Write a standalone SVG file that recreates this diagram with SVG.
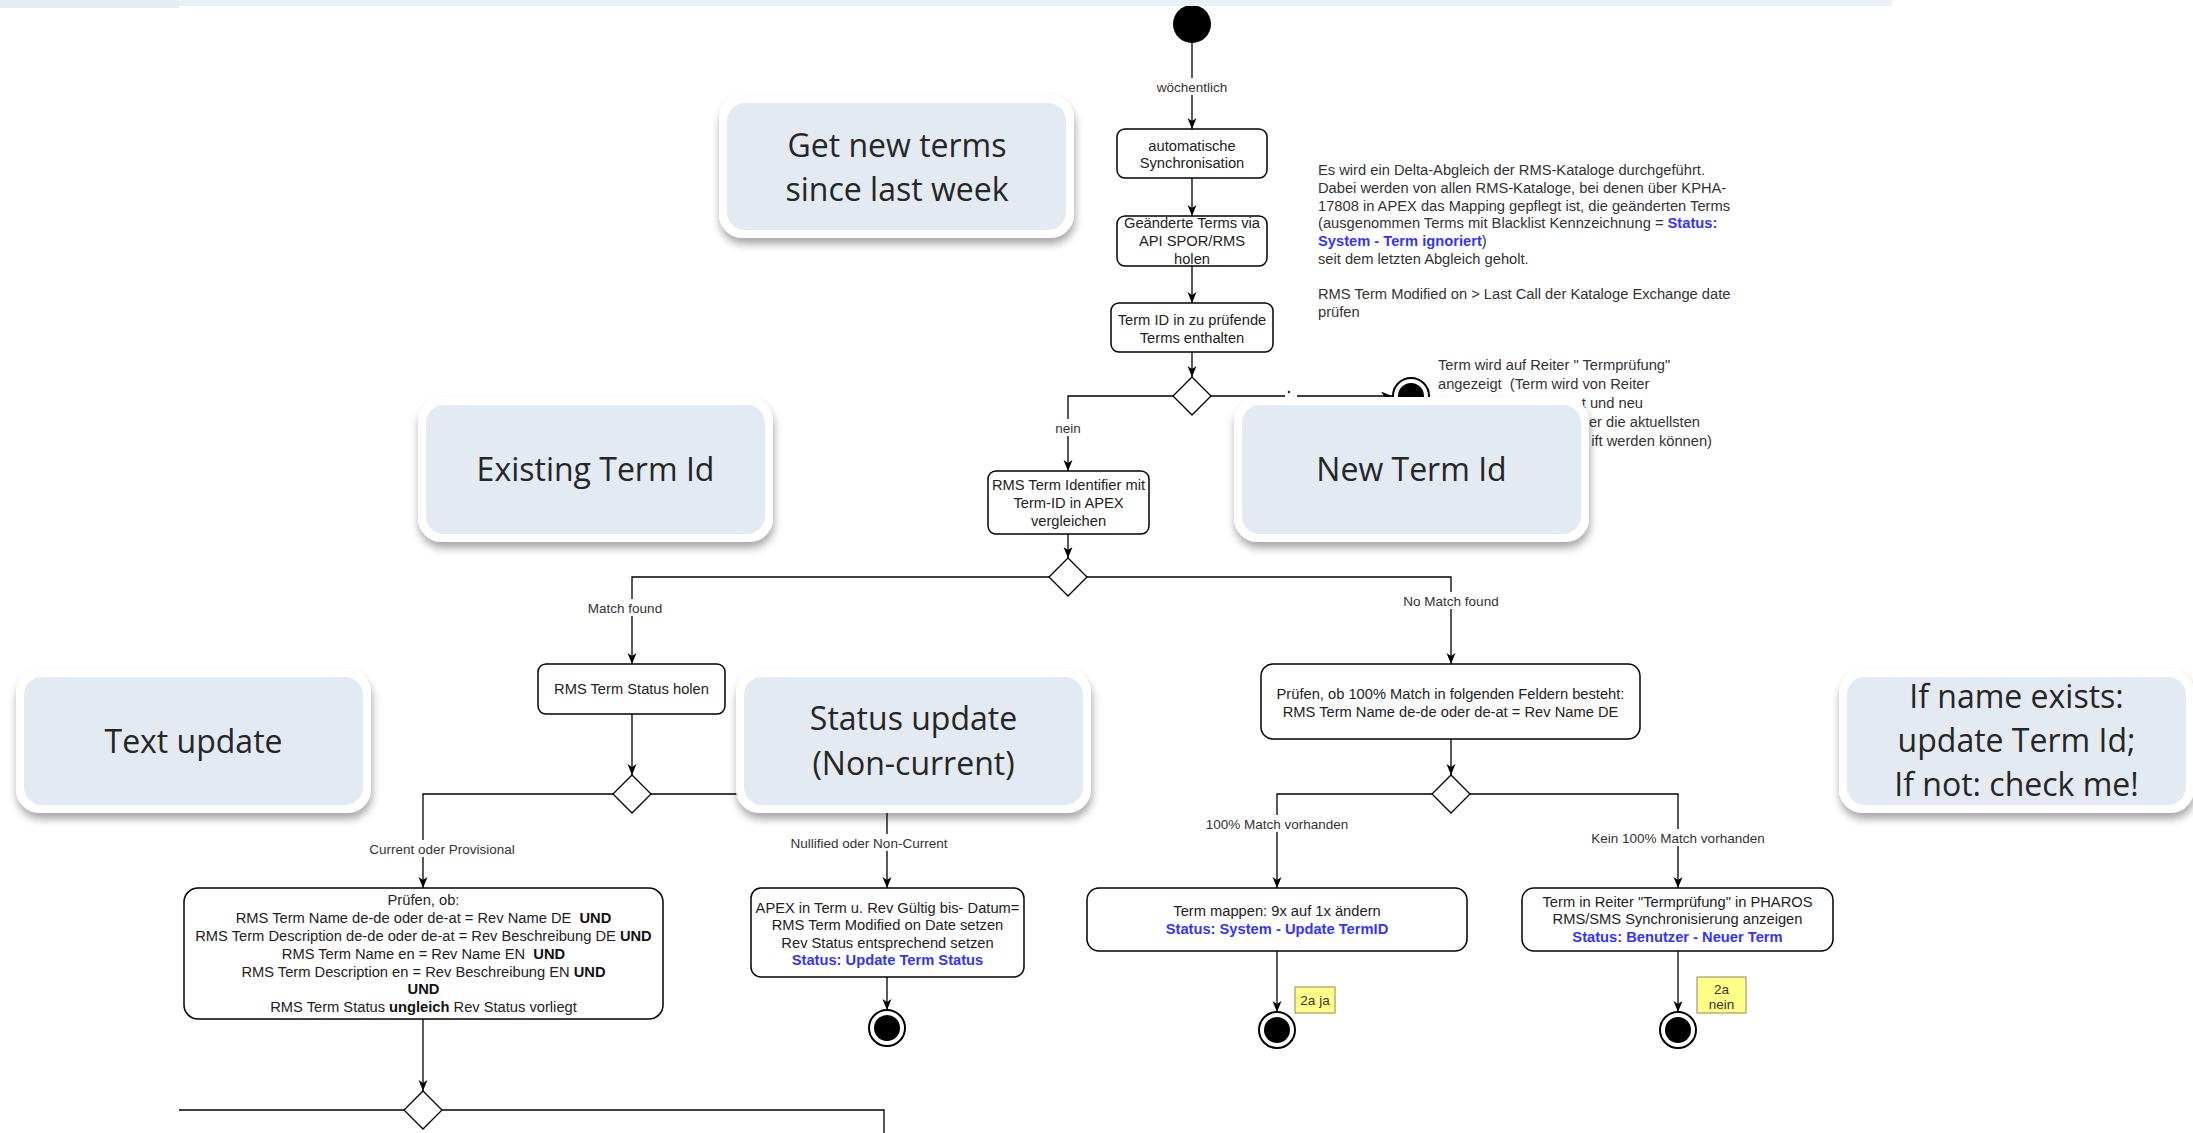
<svg xmlns="http://www.w3.org/2000/svg" width="2193" height="1133" viewBox="0 0 2193 1133">
  <defs>
    <marker id="arrow" markerUnits="userSpaceOnUse" markerWidth="12" markerHeight="10" refX="11" refY="4.5" orient="auto">
      <path d="M0,0 L11,4.5 L0,9 L3,4.5 Z" fill="#000"/>
    </marker>
    <filter id="callout-shadow" x="-10%" y="-10%" width="120%" height="130%">
      <feDropShadow dx="1" dy="6" stdDeviation="4" flood-color="#000" flood-opacity="0.35"/>
    </filter>
    <style>
      .box { fill: #fff; stroke: #000; stroke-width: 1.5; }
      .edge { fill: none; stroke: #000; stroke-width: 1.3; }
      .arrow { marker-end: url(#arrow); }
      .t { font-family: "Liberation Sans", Arial, sans-serif; font-size: 14.7px; fill: #222; text-anchor: middle; white-space: pre; }
      .note { font-family: "Liberation Sans", Arial, sans-serif; font-size: 14.7px; fill: #333; white-space: pre; }
      .lbl { font-family: "Liberation Sans", Arial, sans-serif; font-size: 13.5px; fill: #333; text-anchor: middle; }
      .lblbg { fill: #fff; }
      .b { font-weight: bold; fill: #111; }
      .blue { font-weight: bold; fill: #3333ff; }
      .co-outer { fill: #fff; filter: url(#callout-shadow); }
      .co-inner { fill: #e3eaf2; }
      .co-text { font-family: "Open Sans", "Noto Sans", sans-serif; font-size: 32px; fill: #262626; text-anchor: middle; }
      .diamond { fill: #fff; stroke: #000; stroke-width: 1.3; }
      .sticky { fill: #ffff88; stroke: #8a8a5a; stroke-width: 1; }
      .sticky-t { font-family: "Liberation Sans", Arial, sans-serif; font-size: 13.5px; fill: #333; text-anchor: middle; }
    </style>
  </defs>

  <rect width="2193" height="1133" fill="#fff"/>

  <!-- free text notes -->
  <g id="note-delta">
    <text class="note" x="1318" y="175">Es wird ein Delta-Abgleich der RMS-Kataloge durchgeführt.</text>
    <text class="note" x="1318" y="193">Dabei werden von allen RMS-Kataloge, bei denen über KPHA-</text>
    <text class="note" x="1318" y="211">17808 in APEX das Mapping gepflegt ist, die geänderten Terms</text>
    <text class="note" x="1318" y="228">(ausgenommen Terms mit Blacklist Kennzeichnung = <tspan class="blue">Status:</tspan></text>
    <text class="note" x="1318" y="246"><tspan class="blue">System - Term ignoriert</tspan>)</text>
    <text class="note" x="1318" y="264">seit dem letzten Abgleich geholt.</text>
    <text class="note" x="1318" y="299">RMS Term Modified on &gt; Last Call der Kataloge Exchange date</text>
    <text class="note" x="1318" y="317">prüfen</text>
  </g>
  <g id="note-termpruefung">
    <text class="note" x="1438" y="370">Term wird auf Reiter " Termprüfung"</text>
    <text class="note" x="1438" y="389">angezeigt  (Term wird von Reiter</text>
    <text class="note" x="1643" y="408" text-anchor="end">t und neu</text>
    <text class="note" x="1700" y="427" text-anchor="end">er die aktuellsten</text>
    <text class="note" x="1712" y="446" text-anchor="end">ift werden können)</text>
  </g>

  <!-- connectors -->
  <g id="connectors">
    <path class="edge arrow" d="M1192,43 V129"/>
    <path class="edge arrow" d="M1192,178 V216"/>
    <path class="edge arrow" d="M1192,266 V303"/>
    <path class="edge arrow" d="M1192,352 V377"/>
    <!-- decision 1 -->
    <path class="edge arrow" d="M1173,396 H1068 V471"/>
    <path class="edge" d="M1211,396 H1285"/>
    <path class="edge arrow" d="M1297,396 H1392"/>
    <circle cx="1289" cy="392" r="1.3" fill="#333"/>
    <path class="edge arrow" d="M1068,534 V558"/>
    <!-- decision 2 -->
    <path class="edge arrow" d="M1049,577 H632 V664"/>
    <path class="edge arrow" d="M1087,577 H1451 V664"/>
    <path class="edge arrow" d="M632,714 V775"/>
    <path class="edge arrow" d="M1451,739 V775"/>
    <!-- decision 4 -->
    <path class="edge arrow" d="M613,794 H423 V888"/>
    <path class="edge arrow" d="M651,794 H887 V888"/>
    <!-- decision 3 -->
    <path class="edge arrow" d="M1432,794 H1277 V888"/>
    <path class="edge arrow" d="M1470,794 H1678 V888"/>
    <!-- to end nodes -->
    <path class="edge arrow" d="M887,977 V1010"/>
    <path class="edge arrow" d="M1277,951 V1012"/>
    <path class="edge arrow" d="M1678,951 V1012"/>
    <path class="edge arrow" d="M423,1019 V1091"/>
    <!-- decision 5 -->
    <path class="edge" d="M404,1110 H179"/>
    <path class="edge" d="M442,1110 H884 V1133"/>

    <!-- edge labels -->
    <rect class="lblbg" x="1155" y="78" width="74" height="17"/>
    <text class="lbl" x="1192" y="91.5">wöchentlich</text>
    <rect class="lblbg" x="1053" y="419" width="30" height="17"/>
    <text class="lbl" x="1068" y="432.5">nein</text>
    <rect class="lblbg" x="586" y="599" width="78" height="17"/>
    <text class="lbl" x="625" y="612.5">Match found</text>
    <rect class="lblbg" x="1401" y="592" width="100" height="17"/>
    <text class="lbl" x="1451" y="605.5">No Match found</text>
    <rect class="lblbg" x="366" y="840" width="152" height="17"/>
    <text class="lbl" x="442" y="853.5">Current oder Provisional</text>
    <rect class="lblbg" x="788" y="834" width="162" height="17"/>
    <text class="lbl" x="869" y="847.5">Nullified oder Non-Current</text>
    <rect class="lblbg" x="1204" y="815" width="146" height="17"/>
    <text class="lbl" x="1277" y="828.5">100% Match vorhanden</text>
    <rect class="lblbg" x="1591" y="829" width="176" height="17"/>
    <text class="lbl" x="1678" y="842.5">Kein 100% Match vorhanden</text>
  </g>

  <!-- start -->
  <g id="start">
    <circle cx="1192" cy="24" r="19" fill="#000"/>
  </g>

  <g id="sync">
    <rect class="box" x="1117" y="129" width="150" height="49" rx="8"/>
    <text class="t" x="1192" y="151">automatische</text>
    <text class="t" x="1192" y="168">Synchronisation</text>
  </g>
  <g id="fetch">
    <rect class="box" x="1117" y="216" width="150" height="50" rx="8"/>
    <text class="t" x="1192" y="228">Geänderte Terms via</text>
    <text class="t" x="1192" y="246">API SPOR/RMS</text>
    <text class="t" x="1192" y="264">holen</text>
  </g>
  <g id="check-id">
    <rect class="box" x="1111" y="303" width="162" height="49" rx="8"/>
    <text class="t" x="1192" y="325">Term ID in zu prüfende</text>
    <text class="t" x="1192" y="343">Terms enthalten</text>
  </g>
  <g id="decision-1">
    <polygon class="diamond" points="1192,377 1211,396 1192,415 1173,396"/>
  </g>
  <g id="end-new">
    <circle cx="1411" cy="396" r="18" fill="#fff" stroke="#000" stroke-width="2"/>
    <circle cx="1411" cy="396" r="13" fill="#000"/>
  </g>
  <g id="compare-id">
    <rect class="box" x="988" y="471" width="161" height="63" rx="8"/>
    <text class="t" x="1068.5" y="490">RMS Term Identifier mit</text>
    <text class="t" x="1068.5" y="508">Term-ID in APEX</text>
    <text class="t" x="1068.5" y="526">vergleichen</text>
  </g>
  <g id="decision-2">
    <polygon class="diamond" points="1068,558 1087,577 1068,596 1049,577"/>
  </g>
  <g id="status-fetch">
    <rect class="box" x="538" y="664" width="187" height="50" rx="8"/>
    <text class="t" x="631.5" y="694">RMS Term Status holen</text>
  </g>
  <g id="decision-4">
    <polygon class="diamond" points="632,775 651,794 632,813 613,794"/>
  </g>
  <g id="check-text">
    <rect class="box" x="184" y="888" width="479" height="131" rx="14"/>
    <text class="t" x="423.5" y="905">Prüfen, ob:</text>
    <text class="t" x="423.5" y="923">RMS Term Name de-de oder de-at = Rev Name DE  <tspan class="b">UND</tspan></text>
    <text class="t" x="423.5" y="941">RMS Term Description de-de oder de-at = Rev Beschreibung DE <tspan class="b">UND</tspan></text>
    <text class="t" x="423.5" y="959">RMS Term Name en = Rev Name EN  <tspan class="b">UND</tspan></text>
    <text class="t" x="423.5" y="977">RMS Term Description en = Rev Beschreibung EN <tspan class="b">UND</tspan></text>
    <text class="t b" x="423.5" y="994">UND</text>
    <text class="t" x="423.5" y="1012">RMS Term Status <tspan class="b">ungleich</tspan> Rev Status vorliegt</text>
  </g>
  <g id="decision-5">
    <polygon class="diamond" points="423,1091 442,1110 423,1129 404,1110"/>
  </g>
  <g id="status-set">
    <rect class="box" x="751" y="888" width="273" height="89" rx="10"/>
    <text class="t" x="887.5" y="913">APEX in Term u. Rev Gültig bis- Datum=</text>
    <text class="t" x="887.5" y="930">RMS Term Modified on Date setzen</text>
    <text class="t" x="887.5" y="948">Rev Status entsprechend setzen</text>
    <text class="t blue" x="887.5" y="965">Status: Update Term Status</text>
  </g>
  <g id="end-status">
    <circle cx="887" cy="1028" r="18" fill="#fff" stroke="#000" stroke-width="2"/>
    <circle cx="887" cy="1028" r="13" fill="#000"/>
  </g>
  <g id="check-name">
    <rect class="box" x="1261" y="664" width="379" height="75" rx="12"/>
    <text class="t" x="1450.5" y="699">Prüfen, ob 100% Match in folgenden Feldern besteht:</text>
    <text class="t" x="1450.5" y="717">RMS Term Name de-de oder de-at = Rev Name DE</text>
  </g>
  <g id="decision-3">
    <polygon class="diamond" points="1451,775 1470,794 1451,813 1432,794"/>
  </g>
  <g id="map-term">
    <rect class="box" x="1087" y="888" width="380" height="63" rx="12"/>
    <text class="t" x="1277" y="916">Term mappen: 9x auf 1x ändern</text>
    <text class="t blue" x="1277" y="934">Status: System - Update TermID</text>
  </g>
  <g id="end-map">
    <circle cx="1277" cy="1030" r="18" fill="#fff" stroke="#000" stroke-width="2"/>
    <circle cx="1277" cy="1030" r="13" fill="#000"/>
  </g>
  <g id="note-2a-ja">
    <rect class="sticky" x="1295" y="987" width="40" height="26"/>
    <text class="sticky-t" x="1315" y="1005">2a ja</text>
  </g>
  <g id="show-term">
    <rect class="box" x="1522" y="888" width="311" height="63" rx="12"/>
    <text class="t" x="1677.5" y="907">Term in Reiter "Termprüfung" in PHAROS</text>
    <text class="t" x="1677.5" y="924">RMS/SMS Synchronisierung anzeigen</text>
    <text class="t blue" x="1677.5" y="942">Status: Benutzer - Neuer Term</text>
  </g>
  <g id="end-show">
    <circle cx="1678" cy="1030" r="18" fill="#fff" stroke="#000" stroke-width="2"/>
    <circle cx="1678" cy="1030" r="13" fill="#000"/>
  </g>
  <g id="note-2a-nein">
    <rect class="sticky" x="1697" y="977" width="49" height="36"/>
    <text class="sticky-t" x="1721.5" y="994">2a</text>
    <text class="sticky-t" x="1721.5" y="1009">nein</text>
  </g>

  <!-- callouts -->
  <g id="callout-weekly">
    <rect class="co-outer" x="719" y="95" width="355" height="143" rx="24"/>
    <rect class="co-inner" x="727" y="103" width="339" height="127" rx="18"/>
    <text class="co-text" x="897" y="157">Get new terms</text>
    <text class="co-text" x="897" y="201">since last week</text>
  </g>
  <g id="callout-existing">
    <rect class="co-outer" x="418" y="397" width="355" height="145" rx="24"/>
    <rect class="co-inner" x="426" y="405" width="339" height="129" rx="18"/>
    <text class="co-text" x="595.5" y="481">Existing Term Id</text>
  </g>
  <g id="callout-new">
    <rect class="co-outer" x="1234" y="397" width="355" height="145" rx="24"/>
    <rect class="co-inner" x="1242" y="405" width="339" height="129" rx="18"/>
    <text class="co-text" x="1411.5" y="481">New Term Id</text>
  </g>
  <g id="callout-text">
    <rect class="co-outer" x="16" y="669" width="355" height="144" rx="24"/>
    <rect class="co-inner" x="24" y="677" width="339" height="128" rx="18"/>
    <text class="co-text" x="193.5" y="753">Text update</text>
  </g>
  <g id="callout-status">
    <rect class="co-outer" x="736" y="669" width="355" height="144" rx="24"/>
    <rect class="co-inner" x="744" y="677" width="339" height="128" rx="18"/>
    <text class="co-text" x="913.5" y="730">Status update</text>
    <text class="co-text" x="913.5" y="775">(Non-current)</text>
  </g>
  <g id="callout-name">
    <rect class="co-outer" x="1839" y="669" width="355" height="144" rx="24"/>
    <rect class="co-inner" x="1847" y="677" width="339" height="128" rx="18"/>
    <text class="co-text" x="2016.5" y="708">If name exists:</text>
    <text class="co-text" x="2016.5" y="752">update Term Id;</text>
    <text class="co-text" x="2016.5" y="796">If not: check me!</text>
  </g>

  <!-- page header strip -->
  <g id="header-strip">
    <rect x="0" y="0" width="1892" height="6" fill="#ebeff7"/>
    <rect x="0" y="0" width="179" height="8" fill="#e6ebf4"/>
  </g>
</svg>
